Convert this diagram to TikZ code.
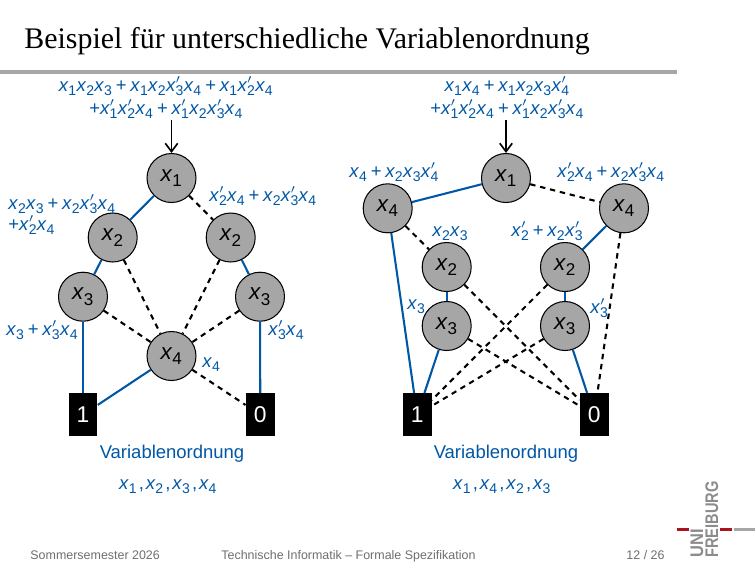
\documentclass[tikz,border=0pt]{standalone}
\usepackage{fontspec}
\usetikzlibrary{arrows.meta}
\setmainfont{Liberation Sans}
\newfontfamily\titlefont{Liberation Serif}
\definecolor{ublue}{RGB}{0,87,165}
\definecolor{ugray}{RGB}{166,166,166}
\definecolor{ulogo}{RGB}{140,140,140}
\definecolor{ured}{RGB}{170,20,30}
\definecolor{footgray}{RGB}{110,110,110}
\newcommand\vsub[1]{\raisebox{-0.46ex}{\scalebox{0.76}{\upshape #1}}}
\newcommand\vx[1]{{\itshape x}\kern.02em\vsub{#1}\kern.02em}
\newcommand\vp[1]{{\itshape x}\kern.02em\rlap{\raisebox{0.72ex}{$\scriptstyle\prime$}}\vsub{#1}\kern.02em}
\newcommand\pl{\kern.2em+\kern.2em}
\tikzset{
  x=0.4817pt,y=-0.4817pt,
  var/.style={circle,draw=black,line width=0.5pt,fill=ugray,minimum size=23.6pt,inner sep=0pt,font=\fontsize{10.8}{12}\selectfont},
  term/.style={rectangle,fill=black,text=white,minimum width=13.8pt,minimum height=20.6pt,inner sep=0pt,font=\fontsize{11}{12}\selectfont},
  lab/.style={text=ublue,inner sep=0pt,font=\fontsize{8.9}{10}\selectfont},
  hi/.style={draw=ublue,line width=1pt},
  lo/.style={draw=black,line width=1pt,dash pattern=on 2.6pt off 2.3pt},
  foot/.style={text=footgray,inner sep=0pt,font=\fontsize{6}{7}\selectfont},
  logo/.style={text=ulogo,inner sep=0pt,rotate=90,anchor=base west,font=\bfseries\fontsize{8.8}{9}\selectfont},
  arr/.style={-{Straight Barb[length=4pt,width=6pt]},line width=0.8pt},
}
\begin{document}
\begin{tikzpicture}
\useasboundingbox (0,0) rectangle (756,567);
\node[inner sep=0pt,anchor=base west,font=\titlefont\fontsize{14.4}{16}\selectfont] (title) at (24,48) {Beispiel für unterschiedliche Variablenordnung};
\coordinate (rl) at (0,72); \coordinate (rr) at (677,72);
\draw[ugray,line width=1.5pt] (rl) -- (rr);
% left diagram
\node[var] (a1) at (171.5,178) {\vx{1}};
\node[var] (a2) at (112.7,237.5) {\vx{2}};
\node[var] (b2) at (230.7,237.5) {\vx{2}};
\node[var] (a3) at (83,296.7) {\vx{3}};
\node[var] (b3) at (260,296.7) {\vx{3}};
\node[var] (a4) at (171.5,356) {\vx{4}};
\node[term] (a1t) at (83,414.7) {1};
\node[term] (a0t) at (260.3,414.7) {0};
\path[hi] (a1) -- (a2); \path[lo] (a1) -- (b2);
\path[hi] (a2) -- (a3); \path[lo] (a2) -- (a4);
\path[hi] (b2) -- (b3); \path[lo] (b2) -- (a4);
\path[lo] (a3) -- (a4); \path[lo] (b3) -- (a4);
\path[hi] (a3) -- (a1t); \path[hi] (b3) -- (a0t);
\path[hi] (a4) -- (a1t); \path[lo] (a4) -- (a0t);
\node[lab,anchor=base] (af1) at (166,91) {\vx{1}\vx{2}\vx{3}\pl\vx{1}\vx{2}\vp{3}\vx{4}\pl\vx{1}\vp{2}\vx{4}};
\node[lab,anchor=base] (af2) at (166,114) {+\vp{1}\vp{2}\vx{4}\pl\vp{1}\vx{2}\vp{3}\vx{4}};
\coordinate (as) at (171.5,120);
\draw[arr] (as) -- (a1);
\node[lab,anchor=base west] (al1) at (8,209) {\vx{2}\vx{3}\pl\vx{2}\vp{3}\vx{4}};
\node[lab,anchor=base west] (al2) at (8,230) {+\vp{2}\vx{4}};
\node[lab,anchor=base west] (al3) at (209,201) {\vp{2}\vx{4}\pl\vx{2}\vp{3}\vx{4}};
\node[lab,anchor=base west] (al4) at (6,335) {\vx{3}\pl\vp{3}\vx{4}};
\node[lab,anchor=base west] (al5) at (268,335) {\vp{3}\vx{4}};
\node[lab,anchor=base west] (al6) at (202,367) {\vx{4}};
\node[lab,anchor=base] (at) at (172,458) {Variablenordnung};
\node[lab,anchor=base] (ao) at (168,489) {\vx{1}\kern.1em,\kern.1em\vx{2}\kern.1em,\kern.1em\vx{3}\kern.1em,\kern.1em\vx{4}};
% right diagram
\node[var] (r1) at (506,178) {\vx{1}};
\node[var] (l4) at (387.7,208.3) {\vx{4}};
\node[var] (m4) at (624,208.3) {\vx{4}};
\node[var] (l2) at (446.7,267) {\vx{2}};
\node[var] (m2) at (565,267) {\vx{2}};
\node[var] (l3) at (446.7,326) {\vx{3}};
\node[var] (m3) at (565,326) {\vx{3}};
\node[term] (r1t) at (417.2,414.7) {1};
\node[term] (r0t) at (594.3,414.7) {0};
\path[hi] (r1) -- (l4); \path[lo] (r1) -- (m4);
\path[lo] (l4) -- (l2); \path[hi] (l4) -- (r1t);
\path[hi] (m4) -- (m2); \path[lo] (m4) -- (r0t);
\path[hi] (l2) -- (l3); \path[hi] (m2) -- (m3);
\path[lo] (l2) -- (r0t); \path[lo] (m2) -- (r1t);
\path[lo] (l3) -- (r0t); \path[lo] (m3) -- (r1t);
\path[hi] (l3) -- (r1t); \path[hi] (m3) -- (r0t);
\node[lab,anchor=base] (rf1) at (507,91) {\vx{1}\vx{4}\pl\vx{1}\vx{2}\vx{3}\vp{4}};
\node[lab,anchor=base] (rf2) at (507,114) {+\vp{1}\vp{2}\vx{4}\pl\vp{1}\vx{2}\vp{3}\vx{4}};
\coordinate (rs) at (506,120);
\draw[arr] (rs) -- (r1);
\node[lab,anchor=base west] (rl1) at (349,177) {\vx{4}\pl\vx{2}\vx{3}\vp{4}};
\node[lab,anchor=base west] (rl2) at (557,177) {\vp{2}\vx{4}\pl\vx{2}\vp{3}\vx{4}};
\node[lab,anchor=base west] (rl3) at (432,236) {\vx{2}\vx{3}};
\node[lab,anchor=base west] (rl4) at (511,236) {\vp{2}\pl\vx{2}\vp{3}};
\node[lab,anchor=base west] (rl5) at (407,309) {\vx{3}};
\node[lab,anchor=base west] (rl6) at (590,313) {\vp{3}};
\node[lab,anchor=base] (rt) at (506,458) {Variablenordnung};
\node[lab,anchor=base] (ro) at (502,489) {\vx{1}\kern.1em,\kern.1em\vx{4}\kern.1em,\kern.1em\vx{2}\kern.1em,\kern.1em\vx{3}};
% footer
\node[foot,anchor=base west] (f1) at (30,559) {Sommersemester 2026};
\node[foot,anchor=base west] (f2) at (221,559) {Technische Informatik -- Formale Spezifikation};
\node[foot,anchor=base east] (f3) at (665,559) {12 / 26};
% logo
\node[logo] (uni) at (703,558) {\scalebox{0.9}[1]{UNI}};
\node[logo] (frei) at (718,558) {\scalebox{0.8}[1]{FREIBURG}};
\fill[ured] (677,528) rectangle (689,530.5);
\fill[ured] (720,528) rectangle (732,530.5);
\fill[ugray] (734,528) rectangle (755,530.5);
\end{tikzpicture}
\end{document}
